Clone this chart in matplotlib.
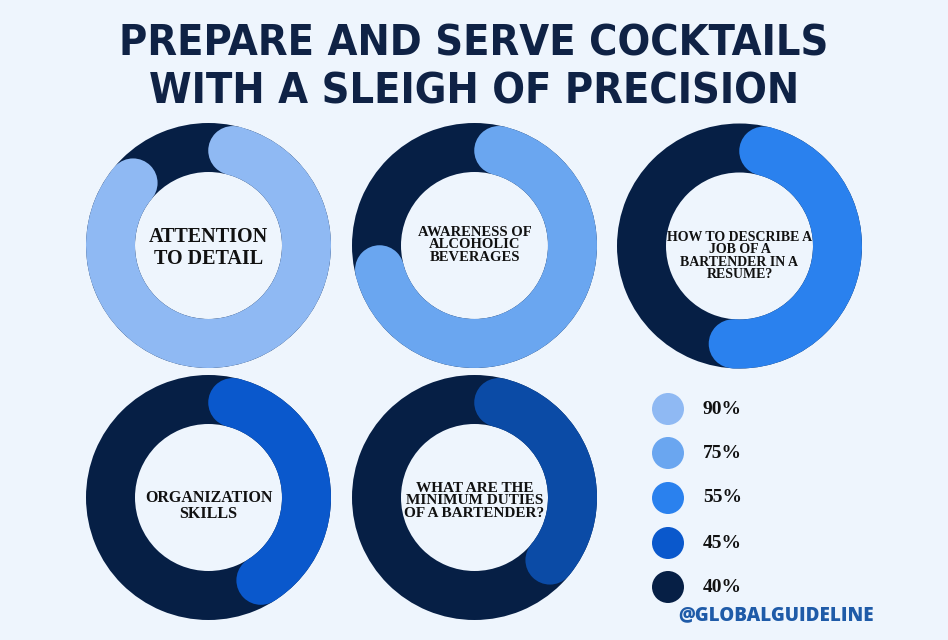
import math
import matplotlib
matplotlib.use("Agg")
import matplotlib.pyplot as plt
from matplotlib.patches import Wedge, Circle

# ---- data ----
labels = [
    "ATTENTION\nTO DETAIL",
    "AWARENESS OF\nALCOHOLIC\nBEVERAGES",
    "HOW TO DESCRIBE A\nJOB OF A\nBARTENDER IN A\nRESUME?",
    "ORGANIZATION\nSKILLS",
    "WHAT ARE THE\nMINIMUM DUTIES\nOF A BARTENDER?",
]
percents = [90, 75, 55, 45, 40]
arc_colors = ["#8fb9f3", "#6aa6f0", "#2a81ee", "#0a58cc", "#0b4ba6"]
legend_values = ["90%", "75%", "55%", "45%", "40%"]
legend_colors = ["#8fb9f3", "#6aa6f0", "#2a81ee", "#0a58cc", "#061f45"]

# ---- layout (pixel space, y up) ----
W, H = 948, 640
BG = "#eef5fd"
NAVY = "#061f45"
centers = [(208.5, 394.5), (474.5, 394.5), (739.5, 394), (208.5, 142.5), (474.5, 142.5)]
label_y = [392, 395, 384, 134, 139]
label_sizes = [14.5, 10.5, 10.0, 11.5, 11.0]
label_spacing = [1.1, 0.95, 0.95, 0.95, 0.95]
R_OUT, R_IN = 122.5, 73.5

fig = plt.figure(figsize=(W / 100, H / 100), dpi=100, facecolor=BG)
ax = fig.add_axes([0, 0, 1, 1])
ax.set_xlim(0, W)
ax.set_ylim(0, H)
ax.set_aspect("equal")
ax.axis("off")
ax.set_facecolor(BG)

width = R_OUT - R_IN
r_mid = (R_OUT + R_IN) / 2
cap = width / 2
inset = math.degrees(cap / r_mid)
serif = ["Liberation Serif", "DejaVu Serif"]

for (cx, cy), pct, col, lab, ly, fs, ls in zip(centers, percents, arc_colors, labels,
                                               label_y, label_sizes, label_spacing):
    # base ring
    ax.add_patch(Wedge((cx, cy), R_OUT, 0, 360, width=width, facecolor=NAVY, edgecolor="none"))
    # coloured arc clockwise from 12 o'clock, round caps
    span = pct / 100 * 360
    t2 = 90 - inset
    t1 = 90 - span + inset
    ax.add_patch(Wedge((cx, cy), R_OUT, t1, t2, width=width, facecolor=col, edgecolor="none"))
    for t in (t1, t2):
        px = cx + r_mid * math.cos(math.radians(t))
        py = cy + r_mid * math.sin(math.radians(t))
        ax.add_patch(Circle((px, py), cap, facecolor=col, edgecolor="none"))
    ax.text(cx, ly, lab, ha="center", va="center", multialignment="center",
            fontsize=fs, fontweight="bold", family=serif, color="#111111", linespacing=ls)

# title
ax.text(W / 2, H - 55, "PREPARE AND SERVE COCKTAILS", ha="center", va="baseline",
        fontsize=31, fontweight="bold", fontstretch="condensed", family="DejaVu Sans",
        color="#0f2245")
ax.text(W / 2, H - 104, "WITH A SLEIGH OF PRECISION", ha="center", va="baseline",
        fontsize=31, fontweight="bold", fontstretch="condensed", family="DejaVu Sans",
        color="#0f2245")

# legend
leg_y = [231, 187, 142, 97, 53]
for y, val, col in zip(leg_y, legend_values, legend_colors):
    ax.add_patch(Circle((668, y), 16, facecolor=col, edgecolor="none"))
    ax.text(703, y, val, ha="left", va="center", fontsize=14, fontweight="bold",
            family=serif, color="#111111")

ax.text(678, H - 615, "@GLOBALGUIDELINE", ha="left", va="center", fontsize=13.5,
        fontweight="heavy", family=["Open Sans", "DejaVu Sans"], color="#1f5ba8")

fig.savefig("out.png", dpi=100, facecolor=BG)
